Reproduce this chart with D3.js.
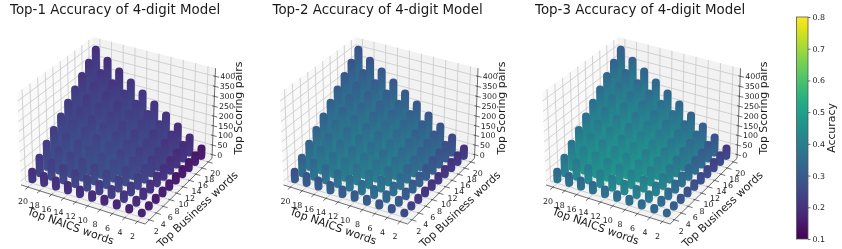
<!DOCTYPE html>
<html>
<head>
<meta charset="utf-8">
<style>
    html, body { margin: 0; padding: 0; background: #fff; }
    svg { display: block; filter: blur(0.35px); }
    text { font-family: "DejaVu Sans", sans-serif; fill: #1a1a1a; }
</style>
<script src="https://cdnjs.cloudflare.com/ajax/libs/d3/7.8.5/d3.min.js"></script>
</head>
<body>
<svg id="chart" width="842" height="249"></svg>
<script>
"use strict"

const naicsWords = [20, 18, 16, 14, 12, 10, 8, 6, 4, 2];
const businessWords = [2, 4, 6, 8, 10, 12, 14, 16, 18, 20];
const pairTicks = [0, 50, 100, 150, 200, 250, 300, 350, 400];
const colorTicks = [0.1, 0.2, 0.3, 0.4, 0.5, 0.6, 0.7, 0.8];
const titles = ["Top-1 Accuracy of 4-digit Model", "Top-2 Accuracy of 4-digit Model", "Top-3 Accuracy of 4-digit Model"];

// rows follow naicsWords, columns follow businessWords
const pairTops = [
    [40, 80, 120, 160, 200, 240, 280, 320, 360, 400],
    [36, 72, 108, 144, 180, 216, 252, 288, 324, 360],
    [32, 64, 96, 128, 160, 192, 224, 256, 288, 320],
    [28, 56, 84, 112, 140, 168, 196, 224, 252, 280],
    [24, 48, 72, 96, 120, 144, 168, 192, 216, 240],
    [20, 40, 60, 80, 100, 120, 140, 160, 180, 200],
    [16, 32, 48, 64, 80, 96, 112, 128, 144, 160],
    [12, 24, 36, 48, 60, 72, 84, 96, 108, 120],
    [8, 16, 24, 32, 40, 48, 56, 64, 72, 80],
    [4, 8, 12, 16, 20, 24, 28, 32, 36, 40]
];
const pairBase = 1;

// accuracy low on each column
const accuracyTop1 = [
    [0.23, 0.25, 0.26, 0.26, 0.26, 0.25, 0.25, 0.24, 0.24, 0.23],
    [0.23, 0.26, 0.27, 0.27, 0.27, 0.26, 0.25, 0.25, 0.24, 0.23],
    [0.23, 0.26, 0.27, 0.27, 0.27, 0.26, 0.26, 0.25, 0.24, 0.23],
    [0.22, 0.26, 0.27, 0.28, 0.27, 0.27, 0.26, 0.25, 0.25, 0.24],
    [0.22, 0.26, 0.27, 0.28, 0.28, 0.27, 0.26, 0.26, 0.25, 0.24],
    [0.22, 0.25, 0.27, 0.28, 0.27, 0.27, 0.26, 0.26, 0.25, 0.24],
    [0.21, 0.25, 0.26, 0.27, 0.27, 0.26, 0.26, 0.25, 0.25, 0.24],
    [0.21, 0.24, 0.25, 0.26, 0.26, 0.25, 0.25, 0.24, 0.24, 0.23],
    [0.20, 0.22, 0.23, 0.23, 0.23, 0.23, 0.22, 0.22, 0.22, 0.22],
    [0.20, 0.19, 0.19, 0.19, 0.19, 0.18, 0.18, 0.18, 0.18, 0.18]
];
const accuracyTop2 = [
    [0.33, 0.37, 0.38, 0.38, 0.37, 0.37, 0.36, 0.35, 0.34, 0.34],
    [0.34, 0.39, 0.40, 0.39, 0.39, 0.38, 0.37, 0.36, 0.35, 0.34],
    [0.34, 0.39, 0.40, 0.40, 0.39, 0.39, 0.38, 0.37, 0.36, 0.35],
    [0.35, 0.39, 0.41, 0.40, 0.40, 0.39, 0.38, 0.37, 0.36, 0.35],
    [0.35, 0.40, 0.41, 0.41, 0.40, 0.39, 0.39, 0.38, 0.37, 0.35],
    [0.35, 0.40, 0.41, 0.41, 0.40, 0.40, 0.39, 0.38, 0.37, 0.35],
    [0.35, 0.39, 0.40, 0.40, 0.40, 0.39, 0.38, 0.37, 0.36, 0.35],
    [0.34, 0.38, 0.39, 0.39, 0.38, 0.38, 0.37, 0.36, 0.35, 0.34],
    [0.33, 0.35, 0.35, 0.35, 0.35, 0.34, 0.33, 0.33, 0.32, 0.31],
    [0.31, 0.29, 0.27, 0.26, 0.26, 0.26, 0.26, 0.26, 0.26, 0.26]
];
const accuracyTop3 = [
    [0.40, 0.43, 0.44, 0.44, 0.43, 0.42, 0.41, 0.40, 0.39, 0.38],
    [0.40, 0.45, 0.46, 0.46, 0.45, 0.44, 0.43, 0.42, 0.40, 0.39],
    [0.40, 0.45, 0.47, 0.46, 0.46, 0.45, 0.44, 0.43, 0.41, 0.39],
    [0.41, 0.46, 0.47, 0.47, 0.46, 0.45, 0.44, 0.43, 0.41, 0.40],
    [0.41, 0.46, 0.47, 0.47, 0.47, 0.46, 0.45, 0.43, 0.42, 0.40],
    [0.41, 0.46, 0.47, 0.47, 0.46, 0.46, 0.45, 0.43, 0.42, 0.40],
    [0.41, 0.45, 0.46, 0.46, 0.46, 0.45, 0.44, 0.43, 0.41, 0.39],
    [0.40, 0.44, 0.45, 0.45, 0.44, 0.43, 0.42, 0.41, 0.40, 0.38],
    [0.39, 0.40, 0.41, 0.40, 0.40, 0.39, 0.38, 0.37, 0.36, 0.35],
    [0.39, 0.37, 0.35, 0.34, 0.33, 0.32, 0.31, 0.30, 0.30, 0.29]
];
const panelAccuracy = [accuracyTop1, accuracyTop2, accuracyTop3];
// how far accuracy falls at the very top of a column, per panel
const capDrop = [0.035, 0.06, 0.07];

const svg = d3.select("#chart");

// normalised box coordinates for the three data axes
const naicsNorm = d3.scaleLinear().domain([21.2, 0.8]).range([0, 1]);
const businessNorm = d3.scaleLinear().domain([0.8, 21.2]).range([0, 1]);
const pairNorm = d3.scaleLinear().domain([-20, 440]).range([0, 0.75]);

const color = d3.scaleSequential(d3.interpolateViridis).domain([0.1, 0.8]);

// same camera maths as mplot3d: elevation, azimuth, distance
function MakeCamera(elev, azim, dist) {
    const el = elev * Math.PI / 180;
    const az = azim * Math.PI / 180;
    const center = [0.5, 0.5, 0.36];
    const w = [Math.cos(el) * Math.cos(az), Math.cos(el) * Math.sin(az), Math.sin(el)];
    const eye = center.map((c, i) => c + dist * w[i]);
    const ulen = Math.hypot(w[0], w[1]);
    const u = [-w[1] / ulen, w[0] / ulen, 0];
    const v = [
        w[1] * u[2] - w[2] * u[1],
        w[2] * u[0] - w[0] * u[2],
        w[0] * u[1] - w[1] * u[0]
    ];
    return function (p) {
        const d = [p[0] - eye[0], p[1] - eye[1], p[2] - eye[2]];
        const zc = d[0] * w[0] + d[1] * w[1] + d[2] * w[2];
        const xc = d[0] * u[0] + d[1] * u[1];
        const yc = d[0] * v[0] + d[1] * v[1] + d[2] * v[2];
        return [xc / -zc, yc / -zc];
    }
}

const camera = MakeCamera(30, -60, 10);

const zTop = pairNorm.range()[1];
const cornerLeft = camera([0, 0, 0]);
const cornerRight = camera([1, 1, 0]);
const cornerFront = camera([1, 0, 0]);
const cornerBackTop = camera([0, 1, zTop]);

const screenX = d3.scaleLinear().domain([cornerLeft[0], cornerRight[0]]).range([21, 212]);
const screenY = d3.scaleLinear().domain([cornerFront[1], cornerBackTop[1]]).range([224, 37]);

function Project(x, y, z) {
    const p = camera([x, y, z]);
    return [screenX(p[0]), screenY(p[1])];
}

const line3d = d3.line();

function DrawPanel(g, index, title, accuracy) {

    g.append("text")
        .attr("x", 10)
        .attr("y", 14)
        .attr("font-size", 13.4)
        .text(title);

    // panes
    const panes = [
        { pts: [[0, 0, 0], [1, 0, 0], [1, 1, 0], [0, 1, 0]], fill: "#f3f3f3" },
        { pts: [[0, 0, 0], [0, 1, 0], [0, 1, zTop], [0, 0, zTop]], fill: "#f9f9f9" },
        { pts: [[0, 1, 0], [1, 1, 0], [1, 1, zTop], [0, 1, zTop]], fill: "#f2f2f2" }
    ];
    g.selectAll("path.pane")
        .data(panes)
        .join("path")
        .attr("class", "pane")
        .attr("fill", d => d.fill)
        .attr("d", d => line3d(d.pts.map(p => Project(p[0], p[1], p[2]))) + "Z");

    // grid lines on the floor and both walls
    const gridLines = [];
    naicsWords.forEach(n => {
        const x = naicsNorm(n);
        gridLines.push([[x, 0, 0], [x, 1, 0], [x, 1, zTop]]);
    });
    businessWords.forEach(b => {
        const y = businessNorm(b);
        gridLines.push([[1, y, 0], [0, y, 0], [0, y, zTop]]);
    });
    pairTicks.forEach(t => {
        const z = pairNorm(t);
        gridLines.push([[0, 0, z], [0, 1, z], [1, 1, z]]);
    });
    g.selectAll("path.grid")
        .data(gridLines)
        .join("path")
        .attr("class", "grid")
        .attr("fill", "none")
        .attr("stroke", "#c8c8c8")
        .attr("stroke-width", 0.8)
        .attr("d", d => line3d(d.map(p => Project(p[0], p[1], p[2]))));

    // the three drawn axis edges
    const edges = [
        [[0, 0, 0], [1, 0, 0]],
        [[1, 0, 0], [1, 1, 0]],
        [[1, 1, 0], [1, 1, zTop]]
    ];
    g.selectAll("path.edge")
        .data(edges)
        .join("path")
        .attr("class", "edge")
        .attr("fill", "none")
        .attr("stroke", "#333")
        .attr("stroke-width", 0.7)
        .attr("d", d => line3d(d.map(p => Project(p[0], p[1], p[2]))));

    // tick marks
    const tickSegs = [];
    naicsWords.forEach(n => {
        const x = naicsNorm(n);
        tickSegs.push([[x, 0.012, 0], [x, -0.035, 0]]);
    });
    businessWords.forEach(b => {
        const y = businessNorm(b);
        tickSegs.push([[0.988, y, 0], [1.035, y, 0]]);
    });
    pairTicks.forEach(t => {
        const z = pairNorm(t);
        tickSegs.push([[0.985, 1.0, z], [1.03, 1.0, z]]);
    });
    g.selectAll("path.tick")
        .data(tickSegs)
        .join("path")
        .attr("class", "tick")
        .attr("fill", "none")
        .attr("stroke", "#333")
        .attr("stroke-width", 0.7)
        .attr("d", d => line3d(d.map(p => Project(p[0], p[1], p[2]))));

    // tick labels
    g.selectAll("text.naics")
        .data(naicsWords)
        .join("text")
        .attr("class", "naics")
        .attr("font-size", 7.9)
        .attr("text-anchor", "middle")
        .attr("x", d => Project(naicsNorm(d), 0, 0)[0] - 5)
        .attr("y", d => Project(naicsNorm(d), 0, 0)[1] + 17)
        .text(d => d);

    g.selectAll("text.business")
        .data(businessWords)
        .join("text")
        .attr("class", "business")
        .attr("font-size", 7.9)
        .attr("text-anchor", "middle")
        .attr("x", d => Project(1, businessNorm(d), 0)[0] + 7)
        .attr("y", d => Project(1, businessNorm(d), 0)[1] + 14)
        .text(d => d);

    g.selectAll("text.pairs")
        .data(pairTicks)
        .join("text")
        .attr("class", "pairs")
        .attr("font-size", 7.9)
        .attr("x", d => Project(1, 1, pairNorm(d))[0] + 5)
        .attr("y", d => Project(1, 1, pairNorm(d))[1] + 3)
        .text(d => d);

    // axis titles
    g.append("text")
        .attr("font-size", 10.9)
        .attr("text-anchor", "middle")
        .attr("transform", "translate(69.5,229.5) rotate(19.5)")
        .text("Top NAICS words");
    g.append("text")
        .attr("font-size", 10.9)
        .attr("text-anchor", "middle")
        .attr("transform", "translate(200,212) rotate(-43)")
        .text("Top Business words");
    g.append("text")
        .attr("font-size", 10.9)
        .attr("text-anchor", "middle")
        .attr("transform", "translate(242,108) rotate(-90)")
        .text("Top Scoring pairs");

    // columns back to front
    const columns = [];
    naicsWords.forEach((n, i) => {
        businessWords.forEach((b, j) => {
            const x = naicsNorm(n);
            const y = businessNorm(b);
            columns.push({
                id: `col-${index}-${i}-${j}`,
                x: x,
                y: y,
                acc: accuracy[i][j],
                bottom: Project(x, y, pairNorm(pairBase)),
                top: Project(x, y, pairNorm(pairTops[i][j]))
            });
        });
    });
    columns.sort((a, c) => (a.x - a.y * 0.6) - (c.x - c.y * 0.6));

    // each column darkens towards its cap
    const defs = g.append("defs");
    columns.forEach(d => {
        const grad = defs.append("linearGradient")
            .attr("id", d.id)
            .attr("gradientUnits", "userSpaceOnUse")
            .attr("x1", 0).attr("x2", 0)
            .attr("y1", d.top[1] - 2)
            .attr("y2", d.top[1] + 20);
        grad.append("stop").attr("offset", 0).attr("stop-color", color(d.acc - capDrop[index]));
        grad.append("stop").attr("offset", 1).attr("stop-color", color(d.acc));
    });

    g.selectAll("path.column")
        .data(columns)
        .join("path")
        .attr("class", "column")
        .attr("fill", "none")
        .attr("stroke", d => `url(#${d.id})`)
        .attr("stroke-width", 8)
        .attr("stroke-linecap", "round")
        .attr("d", d => line3d([d.bottom, d.top]));
}

panelAccuracy.forEach((accuracy, i) => {
    const g = svg.append("g").attr("transform", `translate(${i * 262.5},0)`);
    DrawPanel(g, i, titles[i], accuracy);
});

// colour bar
const barY = d3.scaleLinear().domain([0.1, 0.8]).range([239, 17]);
const defs = svg.append("defs");
const gradient = defs.append("linearGradient")
    .attr("id", "viridis")
    .attr("x1", 0).attr("x2", 0).attr("y1", 1).attr("y2", 0);
gradient.selectAll("stop")
    .data(d3.range(0, 1.001, 0.05))
    .join("stop")
    .attr("offset", d => d)
    .attr("stop-color", d => d3.interpolateViridis(d));

svg.append("rect")
    .attr("x", 796.5)
    .attr("y", 17)
    .attr("width", 11.5)
    .attr("height", 222)
    .attr("fill", "url(#viridis)")
    .attr("stroke", "#555")
    .attr("stroke-width", 0.8);

const barAxis = svg.append("g")
    .attr("transform", "translate(808,0)")
    .call(d3.axisRight(barY).tickValues(colorTicks).tickFormat(d3.format(".1f")).tickSize(2.5).tickPadding(2));
barAxis.select(".domain").remove();
barAxis.selectAll("line").attr("stroke", "#333").attr("stroke-width", 0.7);
barAxis.selectAll("text").attr("font-size", 7.9).attr("font-family", "DejaVu Sans").attr("fill", "#1a1a1a");

svg.append("text")
    .attr("font-size", 10.9)
    .attr("text-anchor", "middle")
    .attr("transform", "translate(835,128) rotate(-90)")
    .text("Accuracy");
</script>
</body>
</html>
